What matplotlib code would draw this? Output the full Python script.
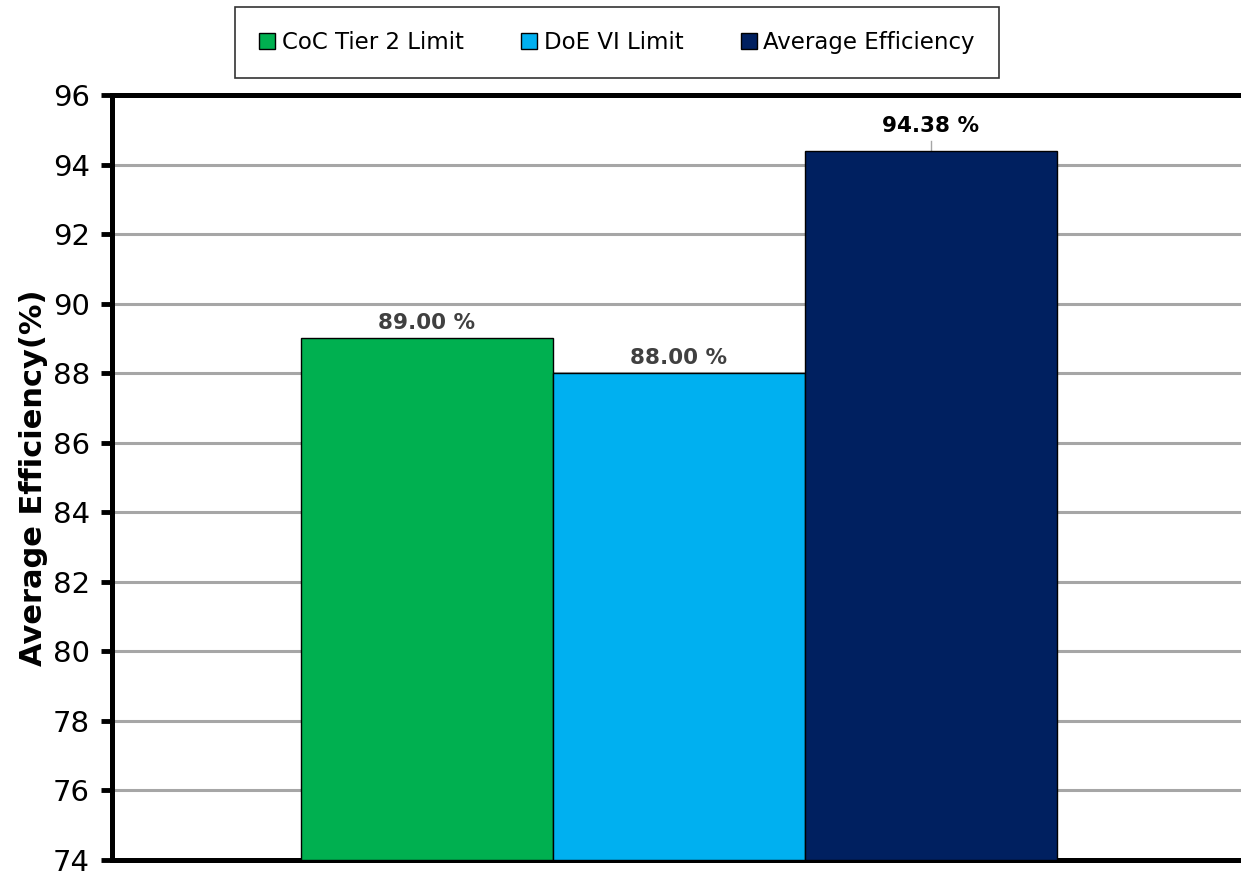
import matplotlib
matplotlib.use('Agg')
import matplotlib.pyplot as plt

# Data
series = ['CoC Tier 2 Limit', 'DoE VI Limit', 'Average Efficiency']
values = [89.00, 88.00, 94.38]
colors = ['#00B050', '#00B0F0', '#002060']
label_colors = ['#404040', '#404040', '#000000']
yticks = [74, 76, 78, 80, 82, 84, 86, 88, 90, 92, 94, 96]

plt.rcParams['font.family'] = 'DejaVu Sans'

fig = plt.figure(figsize=(12.41, 8.76), dpi=100)
ax = fig.add_axes([0.0903, 0.0183, 0.913, 0.8733])

# One category, three bars side by side
width = 0.2224
offsets = [-width, 0, width]
for name, val, col, off in zip(series, values, colors, offsets):
    ax.bar(off, val - 74, bottom=74, width=width, color=col,
           edgecolor='black', linewidth=1, label=name, zorder=3)

# Data labels (the tall bar gets a small leader line)
for val, off, lc in zip(values, offsets, label_colors):
    if val > 94:
        ax.plot([off, off], [val, val + 0.3], color='#A6A6A6', lw=1, zorder=2)
        ax.text(off, val + 0.45, f'{val:.2f} %', ha='center', va='bottom',
                fontsize=15.5, fontweight='bold', color=lc)
    else:
        ax.text(off, val + 0.15, f'{val:.2f} %', ha='center', va='bottom',
                fontsize=15.5, fontweight='bold', color=lc)

ax.set_xlim(-0.5, 0.5)
ax.set_ylim(74, 96)
ax.set_yticks(yticks)
ax.set_xticks([])
ax.tick_params(axis='y', labelsize=21, length=8, width=3.5, direction='out', pad=8)
ax.yaxis.grid(True, color='#A6A6A6', linewidth=2.2, zorder=0)
ax.set_axisbelow(True)

for side in ['left', 'top', 'bottom']:
    ax.spines[side].set_linewidth(3.6)
    ax.spines[side].set_color('black')
ax.spines['right'].set_visible(False)

ax.set_ylabel('Average Efficiency(%)', fontsize=22, fontweight='bold', labelpad=3)

leg = fig.legend(loc='center', bbox_to_anchor=(0.497, 0.951), ncol=3,
                 frameon=True, fancybox=False, edgecolor='black', fontsize=16.5,
                 handlelength=0.7, handleheight=0.7, handletextpad=0.3,
                 columnspacing=2.5, borderpad=1.05, borderaxespad=0)
leg.get_frame().set_linewidth(1.2)

fig.savefig('out.png', dpi=100)
